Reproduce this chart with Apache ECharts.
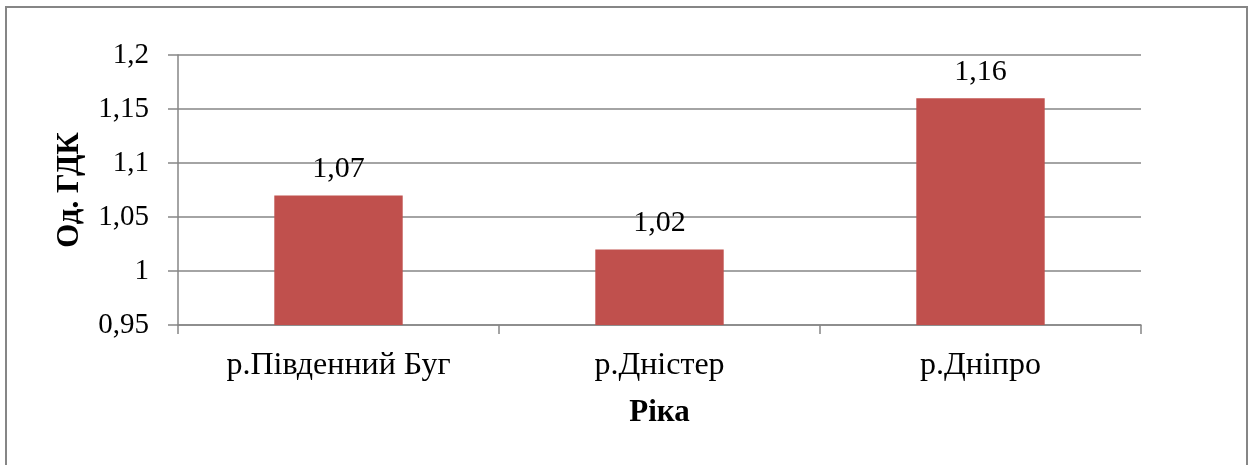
<!DOCTYPE html>
<html>
<head>
<meta charset="utf-8">
<script src="https://cdn.jsdelivr.net/npm/echarts@6/dist/echarts.min.js"></script>
<style>
  html, body { margin: 0; padding: 0; background: #fff; }
  #chart { width: 1251px; height: 465px; }
</style>
</head>
<body>
<div id="chart"></div>
<script>
// Rivers and their values in units of ГДК
const categories = ['р.Південний Буг', 'р.Дністер', 'р.Дніпро'];
const values = [1.07, 1.02, 1.16];
const yTitle = 'Од. ГДК';
const xTitle = 'Ріка';

const FONT = '"Liberation Serif", "Times New Roman", serif';
const GRAY = '#868686';

// Decimal comma, no trailing zeros: 1.2 -> "1,2", 1 -> "1"
function fmt(v) {
  return String(parseFloat(Number(v).toFixed(2))).replace('.', ',');
}

const chart = echarts.init(document.getElementById('chart'), null, { renderer: 'canvas' });
chart.setOption({
  backgroundColor: '#fff',
  animation: false,
  graphic: [{
    type: 'rect',
    shape: { x: 6, y: 7, width: 1241, height: 470 },
    style: { fill: 'none', stroke: GRAY, lineWidth: 2 },
    silent: true
  }],
  grid: { left: 178, right: 110, top: 55, bottom: 140 },
  xAxis: {
    type: 'category',
    data: categories,
    name: xTitle,
    nameLocation: 'middle',
    nameGap: 72,
    nameTextStyle: { fontFamily: FONT, fontSize: 31, fontWeight: 'bold', color: '#000' },
    axisLine: { lineStyle: { color: GRAY, width: 1.5 } },
    axisTick: { show: true, length: 9, lineStyle: { color: GRAY, width: 1.5 } },
    axisLabel: { fontFamily: FONT, fontSize: 32, color: '#000', margin: 25 }
  },
  yAxis: {
    type: 'value',
    min: 0.95,
    max: 1.2,
    interval: 0.05,
    name: yTitle,
    nameLocation: 'middle',
    nameGap: 93,
    nameTextStyle: { fontFamily: FONT, fontSize: 31, fontWeight: 'bold', color: '#000' },
    axisLine: { show: true, lineStyle: { color: GRAY, width: 1.5 } },
    axisTick: { show: true, length: 10, lineStyle: { color: GRAY, width: 1.5 } },
    axisLabel: { fontFamily: FONT, fontSize: 29, color: '#000', margin: 29, formatter: fmt },
    splitLine: { show: true, lineStyle: { color: GRAY, width: 1.5 } }
  },
  series: [{
    type: 'bar',
    data: values,
    barWidth: '40%',
    itemStyle: { color: '#C0504D' },
    label: {
      show: true,
      position: 'top',
      distance: 11,
      fontFamily: FONT,
      fontSize: 30,
      color: '#000',
      formatter: p => fmt(p.value)
    }
  }]
});
</script>
</body>
</html>
